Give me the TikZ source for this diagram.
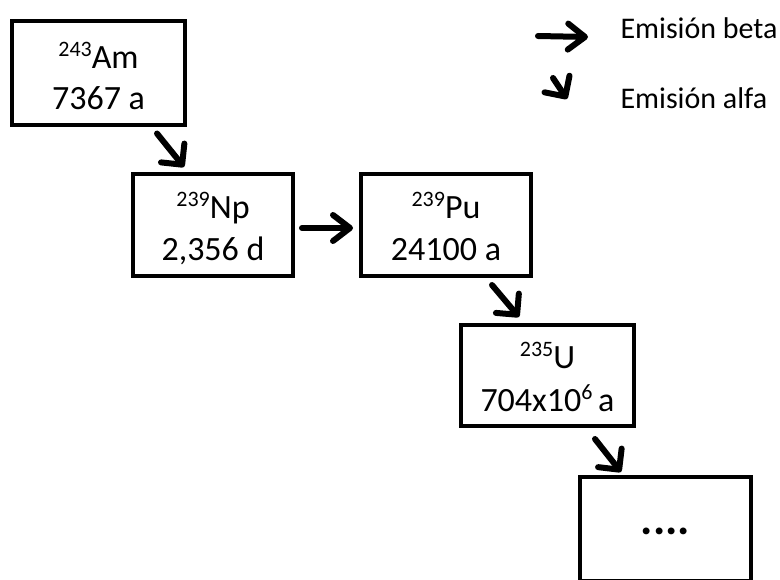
\documentclass[tikz,border=0pt]{standalone}
\usepackage{fontspec}
\setmainfont{Carlito}
\usetikzlibrary{arrows.meta,calc}

% isotope label: raised mass number followed by the element symbol
\newcommand{\isotope}[2]{\raisebox{12pt}{\fontsize{22}{22}\selectfont #1}#2}

\begin{document}
\begin{tikzpicture}[x=1pt,y=-1pt,
  box/.style={draw, line width=4pt, inner sep=0pt},
  boxline/.style={anchor=base, inner sep=0pt, font=\fontsize{34}{40}\selectfont},
  decay/.style={line width=6pt, line cap=round},
  beta/.style={decay, -{Straight Barb[length=17pt,width=26pt,line cap=round,line join=round]}},
  alfa/.style={decay, -{Straight Barb[length=15pt,width=30pt,line cap=round,line join=round]}},
  legendtext/.style={anchor=base west, font=\fontsize{30}{35}\selectfont}]

\useasboundingbox (0,0) rectangle (780,580);
\clip (0,0) rectangle (780,580);

% decay chain boxes
\node[box, minimum width=173pt, minimum height=104pt] (am) at (98.5,73.5) {};
\node[box, minimum width=160pt, minimum height=102pt] (np) at (213,225) {};
\node[box, minimum width=170pt, minimum height=102pt] (pu) at (446,225) {};
\node[box, minimum width=173pt, minimum height=101pt] (u) at (547.5,375.5) {};
\node[box, minimum width=171pt, minimum height=104pt] (rest) at (665.5,529) {};

% nuclide and half-life inside each box
\node[boxline] (amiso) at ($(am.center)+(0,-5)$) {\isotope{243}{Am}};
\node[boxline] (amlife) at ($(am.center)+(0,36)$) {7367 a};
\node[boxline] (npiso) at ($(np.center)+(0,-6)$) {\isotope{239}{Np}};
\node[boxline] (nplife) at ($(np.center)+(0,36)$) {2,356 d};
\node[boxline] (puiso) at ($(pu.center)+(0,-6)$) {\isotope{239}{Pu}};
\node[boxline] (pulife) at ($(pu.center)+(0,36)$) {24100 a};
\node[boxline] (uiso) at ($(u.center)+(0,-7)$) {\isotope{235}{U}};
\node[boxline] (ulife) at ($(u.center)+(0,36)$)
  {704x10\raisebox{12pt}{\fontsize{22}{22}\selectfont 6}\,a};
\node[boxline, anchor=center] (restdots) at ($(rest.center)+(0,2)$)
  {\fontsize{46}{46}\selectfont\bfseries ....};

% decays
\draw[alfa] ($(am.south east)+(-30,6)$) -- ($(np.north west)+(53,-5)$);
\draw[beta] ($(np.east)+(7,3)$) -- ($(pu.west)+(-6,3)$);
\draw[alfa] ($(pu.south east)+(-41,7)$) -- ($(u.north west)+(60,-6)$);
\draw[alfa] ($(u.south east)+(-41,11)$) -- ($(rest.north west)+(43,-3)$);

% legend
\coordinate (bt1) at (538,36);
\coordinate (bt2) at (588,37);
\coordinate (al1) at (553,78);
\coordinate (al2) at (567,99);
\draw[beta] (bt1) -- (bt2);
\draw[alfa] (al1) -- (al2);
\node[legendtext] (lbeta) at (617,39) {Emisión beta};
\node[legendtext] (lalfa) at (617,109) {Emisión alfa};
\end{tikzpicture}
\end{document}
